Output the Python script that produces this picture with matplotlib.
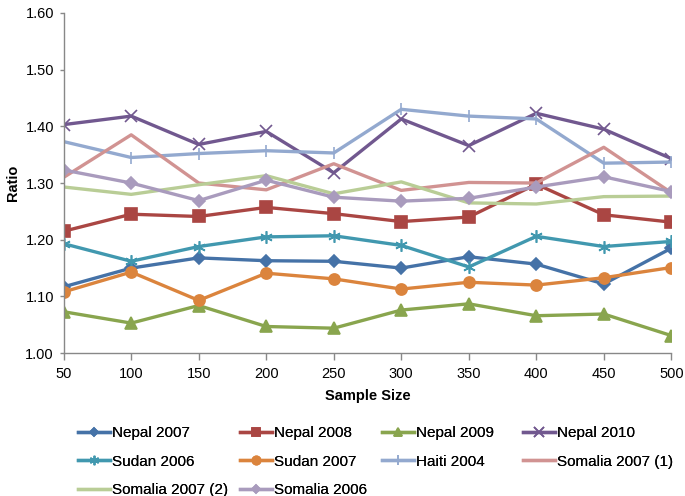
import matplotlib
matplotlib.use("Agg")
import matplotlib.pyplot as plt

plt.rcParams['font.family'] = ['Liberation Sans', 'DejaVu Sans']

sample_sizes = [50, 100, 150, 200, 250, 300, 350, 400, 450, 500]

nepal_2007 = [1.117, 1.150, 1.168, 1.163, 1.162, 1.150, 1.170, 1.157, 1.122, 1.185]
nepal_2008 = [1.215, 1.245, 1.241, 1.257, 1.246, 1.232, 1.240, 1.298, 1.244, 1.231]
nepal_2009 = [1.073, 1.053, 1.084, 1.047, 1.044, 1.076, 1.087, 1.066, 1.069, 1.031]
nepal_2010 = [1.403, 1.418, 1.368, 1.391, 1.318, 1.413, 1.366, 1.423, 1.395, 1.343]
sudan_2006 = [1.193, 1.162, 1.188, 1.205, 1.207, 1.190, 1.152, 1.206, 1.188, 1.197]
sudan_2007 = [1.108, 1.143, 1.093, 1.141, 1.131, 1.113, 1.125, 1.120, 1.133, 1.151]
haiti_2004 = [1.373, 1.345, 1.352, 1.357, 1.353, 1.430, 1.418, 1.413, 1.335, 1.337]
somalia_2007_1 = [1.310, 1.385, 1.300, 1.288, 1.334, 1.287, 1.301, 1.300, 1.363, 1.283]
somalia_2007_2 = [1.293, 1.280, 1.297, 1.313, 1.281, 1.302, 1.265, 1.263, 1.276, 1.277]
somalia_2006 = [1.323, 1.300, 1.269, 1.305, 1.275, 1.268, 1.273, 1.293, 1.311, 1.285]

series_names = ["Nepal 2007", "Nepal 2008", "Nepal 2009", "Nepal 2010",
                "Sudan 2006", "Sudan 2007", "Haiti 2004", "Somalia 2007 (1)",
                "Somalia 2007 (2)", "Somalia 2006"]
series_values = [nepal_2007, nepal_2008, nepal_2009, nepal_2010, sudan_2006,
                 sudan_2007, haiti_2004, somalia_2007_1, somalia_2007_2, somalia_2006]
y_ticks = [1.0, 1.1, 1.2, 1.3, 1.4, 1.5, 1.6]

colors = ["#4572A7", "#AA4643", "#89A54E", "#71588F", "#4198AF",
          "#DB843D", "#93A9CF", "#D19392", "#B9CD96", "#A99BBD"]
markers = ["D", "s", "^", "x", (6, 2, 0), "o", "|", None, None, "D"]
msizes = [6, 8, 8, 9, 9, 8, 9, 0, 0, 6]

fig = plt.figure(figsize=(6.85, 4.96), dpi=100)
ax = fig.add_axes([0.093, 0.288, 0.887, 0.686])

handles = []
for name, vals, c, m, ms in zip(series_names, series_values, colors, markers, msizes):
    kw = dict(color=c, lw=2.4, label=name, solid_joinstyle='round')
    if m is not None:
        kw.update(marker=m, markersize=ms, markeredgecolor=c, markerfacecolor=c,
                  markeredgewidth=1.2)
    h, = ax.plot(sample_sizes, vals, **kw)
    handles.append(h)

ax.set_xlim(50, 500)
ax.set_ylim(1.0, 1.6)
ax.set_xticks(sample_sizes)
ax.set_yticks(y_ticks)
ax.set_yticklabels([f"{v:.2f}" for v in y_ticks])
ax.tick_params(axis='both', labelsize=10.5, color='#888888', width=1)
ax.tick_params(axis='x', length=5, pad=5)
ax.tick_params(axis='y', length=3, pad=4)
for s in ['top', 'right']:
    ax.spines[s].set_visible(False)
for s in ['left', 'bottom']:
    ax.spines[s].set_color('#888888')
    ax.spines[s].set_linewidth(1)

ax.set_xlabel("Sample Size", fontsize=10.5, fontweight='bold', labelpad=6)
ax.set_ylabel("Ratio", fontsize=10.5, fontweight='bold', labelpad=4)

# legend: four columns placed on a grid, filled row by row
columns = [[0, 4, 8], [1, 5, 9], [2, 6], [3, 7]]
col_x = [78, 240, 382, 523]
W, H = 685.0, 496.0
for idxs, x in zip(columns, col_x):
    leg = fig.legend([handles[i] for i in idxs], [series_names[i] for i in idxs],
                     ncol=1, loc='upper left', bbox_to_anchor=(x / W, 1 - 426 / H),
                     frameon=False, fontsize=11, handlelength=2.1,
                     handletextpad=0.15, labelspacing=0.95, borderpad=0,
                     borderaxespad=0)
    for lh in leg.legend_handles:
        lh.set_markersize(lh.get_markersize() * 0.75)
    fig.add_artist(leg)

fig.savefig("out.png", dpi=100)
